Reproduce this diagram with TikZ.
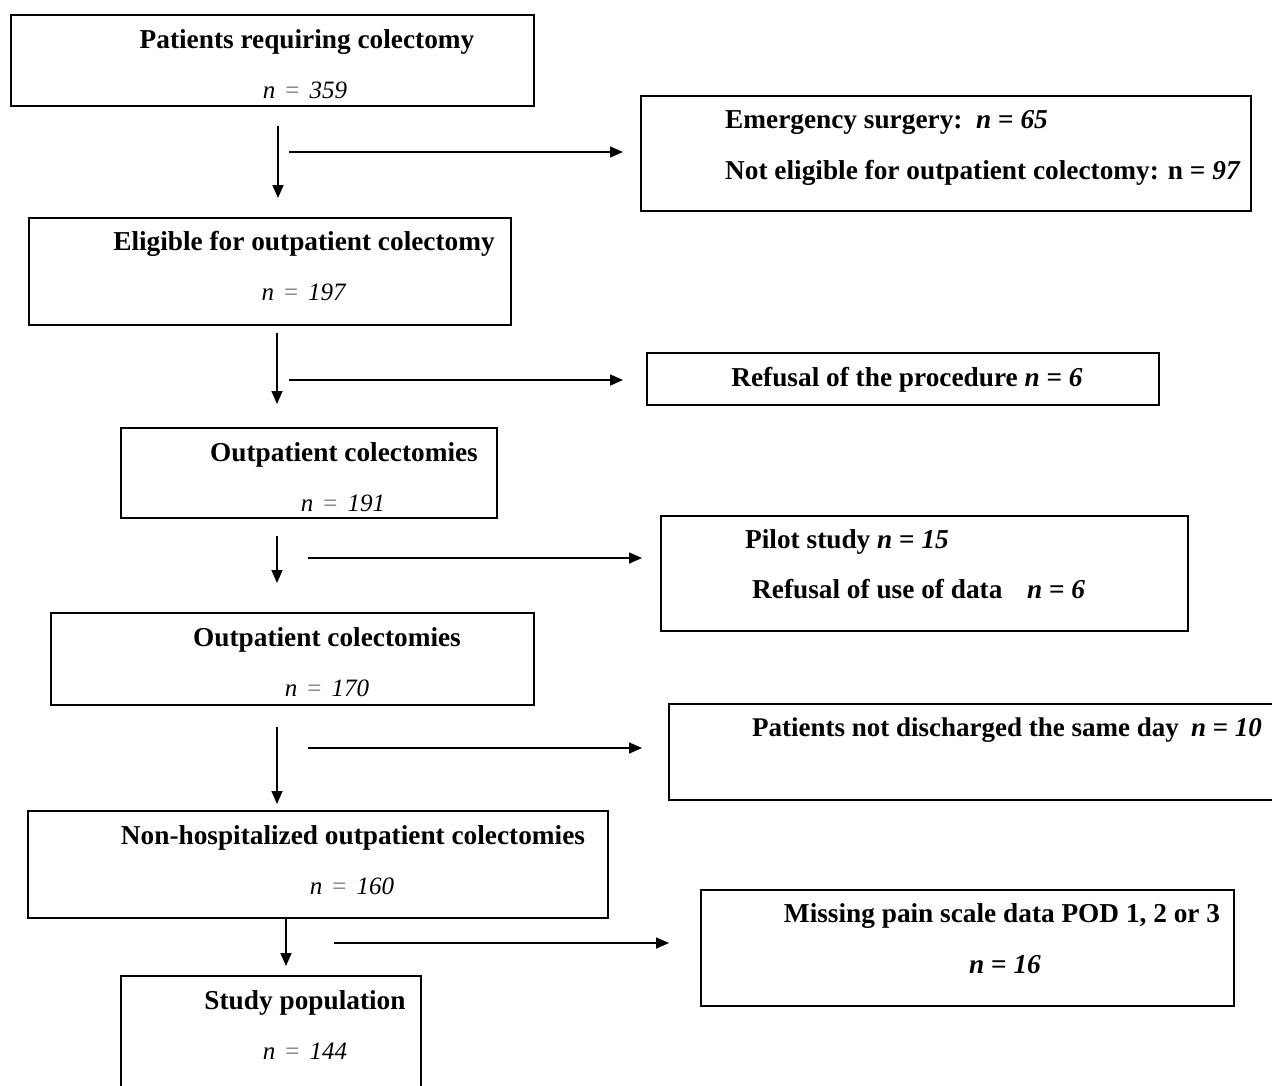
\documentclass[tikz,border=0pt]{standalone}
\usepackage{fontspec}
\setmainfont{Liberation Serif}
\usetikzlibrary{arrows.meta,fit}
\newcommand{\nval}[1]{\textit{n}\hspace{0.4em}{\color{black!55}=}\hspace{0.4em}\textit{#1}}
\newcommand{\nbold}[1]{\textit{n} = \textit{#1}}
\begin{document}
\begin{tikzpicture}[x=1pt,y=-1pt,
  boxline/.style={draw=black, line width=1.3pt, inner sep=0pt},
  flow/.style={line width=1.6pt, -{Triangle[length=13pt,width=11pt]}},
  lbl/.style={inner sep=0pt, anchor=base, font=\fontsize{27.3}{31}\selectfont\bfseries},
  lblw/.style={lbl, anchor=base west},
  nlbl/.style={inner sep=0pt, anchor=base, font=\fontsize{25}{29}\selectfont},
]
\useasboundingbox (0,0) rectangle (1272,1085);
\clip (0,0) rectangle (1272,1085);

% left column boxes
\node[boxline, fit={(11,15) (534,106)}] (b1) {};
\node[boxline, fit={(29,218) (511,325)}] (b2) {};
\node[boxline, fit={(121,428) (497,518)}] (b3) {};
\node[boxline, fit={(51,613) (534,705)}] (b4) {};
\node[boxline, fit={(28,811) (608,918)}] (b5) {};
\node[boxline, fit={(121,976) (421,1100)}] (b6) {};

% right column boxes
\node[boxline, fit={(641,96) (1251,211)}] (r1) {};
\node[boxline, fit={(647,353) (1159,405)}] (r2) {};
\node[boxline, fit={(661,516) (1188,631)}] (r3) {};
\node[boxline, fit={(669,704) (1290,800)}] (r4) {};
\node[boxline, fit={(701,890) (1234,1006)}] (r5) {};

% left texts
\node[lbl] (t1) at (307,48) {Patients requiring colectomy};
\node[nlbl] (n1) at (305,98) {\nval{359}};
\node[lbl] (t2) at (304,250) {Eligible for outpatient colectomy};
\node[nlbl] (n2) at (304,300) {\nval{197}};
\node[lbl] (t3) at (344,461) {Outpatient colectomies};
\node[nlbl] (n3) at (343,511) {\nval{191}};
\node[lbl] (t4) at (327,646) {Outpatient colectomies};
\node[nlbl] (n4) at (327,696) {\nval{170}};
\node[lbl] (t5) at (353,844) {Non-hospitalized outpatient colectomies};
\node[nlbl] (n5) at (352,894) {\nval{160}};
\node[lbl] (t6) at (305,1009) {Study population};
\node[nlbl] (n6) at (305,1059) {\nval{144}};

% right texts
\node[lblw] (e1) at (725,128) {Emergency surgery:\ \ \nbold{65}};
\node[lblw] (e2) at (725,179) {Not eligible for outpatient colectomy: n = \textit{97}};
\node[lbl] (p0) at (907,386) {Refusal of the procedure \nbold{6}};
\node[lblw] (p1) at (745,548) {Pilot study \nbold{15}};
\node[lblw] (p2) at (752,598) {Refusal of use of data\hspace{0.9em}\nbold{6}};
\node[lblw, font=\fontsize{27}{31}\selectfont\bfseries] (d1) at (752,736) {Patients not discharged the same day\hspace{0.45em}\nbold{10}};
\node[lbl] (m1) at (1002,922) {Missing pain scale data POD 1, 2 or 3};
\node[lbl] (m2) at (1005,973) {\nbold{16}};

% arrow end points
\coordinate (v1s) at (278,126); \coordinate (v1e) at (278,198);
\coordinate (h1s) at (289,152); \coordinate (h1e) at (623,152);
\coordinate (v2s) at (277,333); \coordinate (v2e) at (277,404);
\coordinate (h2s) at (289,380); \coordinate (h2e) at (623,380);
\coordinate (v3s) at (277,536); \coordinate (v3e) at (277,583);
\coordinate (h3s) at (308,558); \coordinate (h3e) at (642,558);
\coordinate (v4s) at (277,727); \coordinate (v4e) at (277,804);
\coordinate (h4s) at (308,748); \coordinate (h4e) at (642,748);
\coordinate (v5s) at (286,918); \coordinate (v5e) at (286,966);
\coordinate (h5s) at (334,943); \coordinate (h5e) at (669,943);

\draw[flow] (v1s) -- (v1e);
\draw[flow] (h1s) -- (h1e);
\draw[flow] (v2s) -- (v2e);
\draw[flow] (h2s) -- (h2e);
\draw[flow] (v3s) -- (v3e);
\draw[flow] (h3s) -- (h3e);
\draw[flow] (v4s) -- (v4e);
\draw[flow] (h4s) -- (h4e);
\draw[flow] (v5s) -- (v5e);
\draw[flow] (h5s) -- (h5e);
\end{tikzpicture}
\end{document}
